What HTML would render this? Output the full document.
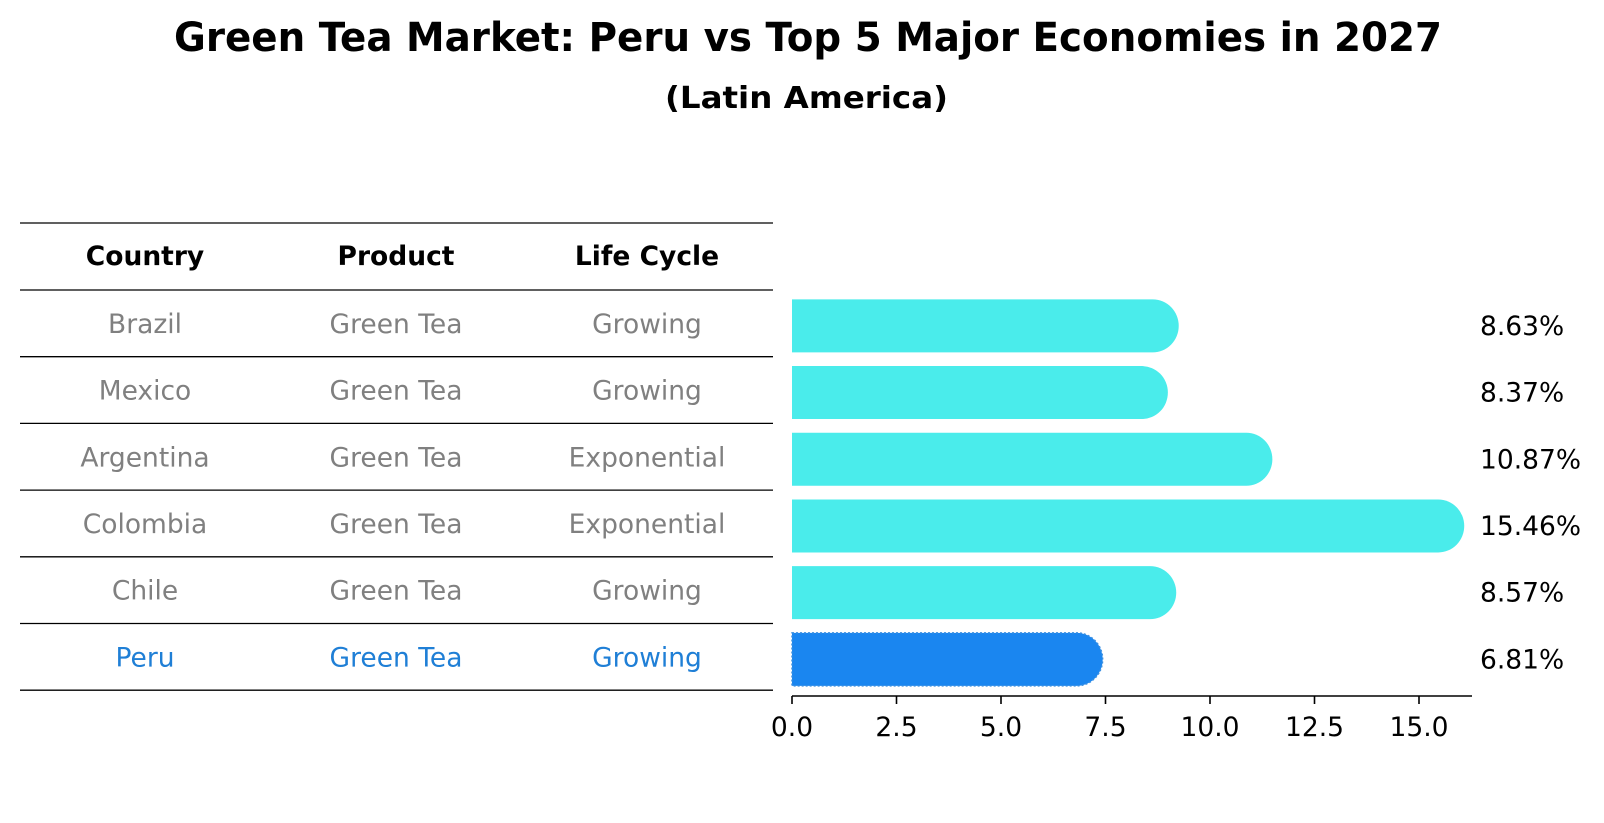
<!DOCTYPE html>
<html><head><meta charset="utf-8"><style>
html,body{margin:0;padding:0;background:#fff;}
svg{display:block;font-family:"DejaVu Sans","Liberation Sans",sans-serif;}
</style></head><body>
<svg id="chart" width="1604" height="823" viewBox="0 0 1604 823" xmlns="http://www.w3.org/2000/svg">
<rect width="1604" height="823" fill="#fff"/>
<text x="174" y="51" font-size="40" font-weight="bold" textLength="1268" lengthAdjust="spacingAndGlyphs">Green Tea Market: Peru vs Top 5 Major Economies in 2027</text>
<text x="665" y="108" font-size="30" font-weight="bold" textLength="283" lengthAdjust="spacingAndGlyphs">(Latin America)</text>
<g id="table"></g>
<g id="bars"></g>
</svg>
<script>
const countries = ["Brazil","Mexico","Argentina","Colombia","Chile","Peru"];
const products = ["Green Tea","Green Tea","Green Tea","Green Tea","Green Tea","Green Tea"];
const lifeCycles = ["Growing","Growing","Exponential","Exponential","Growing","Growing"];
const values = [8.63,8.37,10.87,15.46,8.57,6.81];
const valueLabels = ["8.63%","8.37%","10.87%","15.46%","8.57%","6.81%"];
const xTicks = [0,2.5,5,7.5,10,12.5,15];
const xTickLabels = ["0.0","2.5","5.0","7.5","10.0","12.5","15.0"];
const highlight = "Peru";

const NS="http://www.w3.org/2000/svg";
function mk(tag,attrs,parent){const e=document.createElementNS(NS,tag);for(const k in attrs)e.setAttribute(k,attrs[k]);parent.appendChild(e);return e;}

// axis functions
const x0=792, pxPerUnit=(1419-792)/15;
function xScale(v){return x0+v*pxPerUnit;}
const rowTop0=290, rowH=66.7;
function rowCenter(i){return rowTop0+rowH*i+rowH/2;}

// table
const table=document.getElementById('table');
const colX=[145,396,647];
const lineYs=[223];
for(let i=0;i<=countries.length;i++)lineYs.push(rowTop0+rowH*i);
lineYs.forEach((y,i)=>{
  const l=mk('line',{x1:20,x2:773,y1:y,y2:y,stroke:'#000','stroke-width':1.3},table);
  
  
});
["Country","Product","Life Cycle"].forEach((h,j)=>{
  const t=mk('text',{x:colX[j],y:265,'text-anchor':'middle','font-size':26.5,'font-weight':'bold',fill:'#000'},table);
  t.textContent=h;
  
  
});
countries.forEach((c,i)=>{
  const col=c===highlight?'#1f7fd6':'#808080';
  [c,products[i],lifeCycles[i]].forEach((v,j)=>{
    const t=mk('text',{x:colX[j],y:rowCenter(i)+9.5,'text-anchor':'middle','font-size':26.5,fill:col},table);
    t.textContent=v;
    
    
  });
});

// bars
const bars=document.getElementById('bars');
const barH=53, r=26;
values.forEach((v,i)=>{
  const cy=rowCenter(i)+2.5, top=cy-barH/2, xe=xScale(v);
  const isH=countries[i]===highlight;
  const d=`M${x0},${top} H${xe} A${r},${barH/2} 0 0 1 ${xe},${top+barH} H${x0} Z`;
  const p=mk('path',{d:d,fill:isH?'#1a86f0':'#4aeceb'},bars);
  if(isH){p.setAttribute('stroke','#3b8fe0');p.setAttribute('stroke-width',1.5);p.setAttribute('stroke-dasharray','2 2');}
  
  
  const t=mk('text',{x:1480,y:cy+9,'font-size':26.5,fill:'#000'},bars);
  t.textContent=valueLabels[i];
  
  
});
const ax=mk('line',{x1:x0,x2:1472,y1:696,y2:696,stroke:'#000','stroke-width':1.6},bars);


xTicks.forEach((v,i)=>{
  const tk=mk('line',{x1:xScale(v),x2:xScale(v),y1:696,y2:704,stroke:'#000','stroke-width':1.6},bars);
  
  
  const t=mk('text',{x:xScale(v),y:736,'text-anchor':'middle','font-size':26.5,fill:'#000'},bars);
  t.textContent=xTickLabels[i];
  
  
});
</script>
</body></html>
